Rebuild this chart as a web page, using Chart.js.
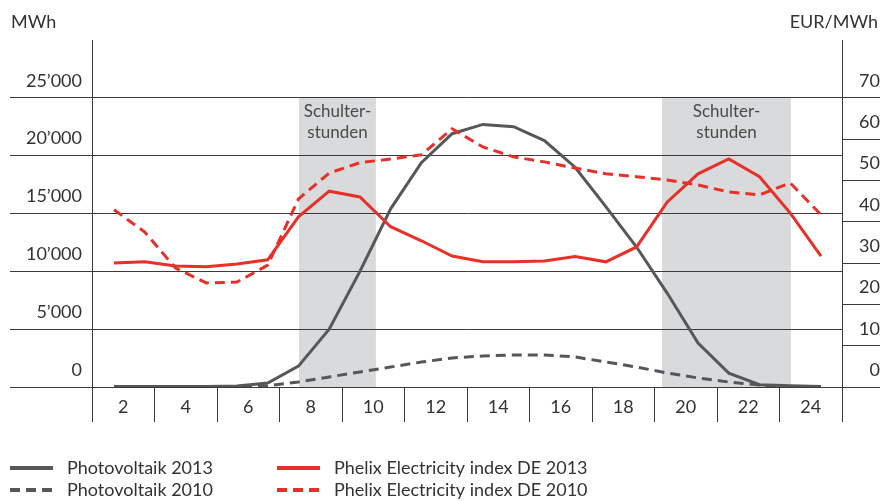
<!DOCTYPE html>
<html>
<head>
<meta charset="utf-8">
<script src="https://cdn.jsdelivr.net/npm/chart.js@4.4.0/dist/chart.umd.min.js"></script>
<style>
  html, body { margin: 0; padding: 0; background: #fff; }
  #wrap { width: 893px; height: 501px; }
</style>
</head>
<body>
<div id="wrap"><canvas id="chart"></canvas></div>
<script>
// hours of the day (one point per hour)
const hours = [1, 2, 3, 4, 5, 6, 7, 8, 9, 10, 11, 12, 13, 14, 15, 16, 17, 18, 19, 20, 21, 22, 23, 24];
const xLabels = ['2', '4', '6', '8', '10', '12', '14', '16', '18', '20', '22', '24'];

// MWh (left axis)
const pv2013 = [50, 50, 50, 50, 80, 350, 1800, 5000, 10000, 15400, 19400, 21900, 22700, 22500, 21300, 19000, 15600, 12100, 8100, 3800, 1200, 200, 100, 50];
const pv2010 = [0, 0, 0, 0, 0, 100, 430, 870, 1300, 1730, 2160, 2510, 2680, 2770, 2770, 2600, 2160, 1730, 1210, 780, 430, 170, 0, 0];

// EUR/MWh (right axis)
const phelix2013 = [30.0, 30.3, 29.3, 29.1, 29.8, 30.8, 41.2, 47.4, 46.0, 38.8, 35.4, 31.7, 30.3, 30.3, 30.5, 31.6, 30.3, 33.9, 44.8, 51.6, 55.2, 50.9, 42.1, 31.7];
const phelix2010 = [42.9, 37.5, 28.8, 25.2, 25.4, 29.5, 45.5, 51.8, 54.3, 55.2, 56.2, 62.5, 58.1, 55.7, 54.5, 53.0, 51.6, 50.9, 50.1, 48.9, 47.2, 46.5, 49.4, 41.7];

// Schulterstunden bands (in hour units)
const shoulderBands = [[7.02, 9.52], [18.83, 23.02]];
const shoulderText = ['Schulter-', 'stunden'];

const GREY = '#555759';
const RED = '#e8302a';
const LINE = '#3a3a3a';
const TEXT = '#333333';
const FONT = 'Lato';

const fmt = v => String(v).replace(/\B(?=(\d{3})+(?!\d))/g, '\u2019');
const pts = arr => hours.map((h, i) => ({ x: h, y: arr[i] }));

const shoulderPlugin = {
  id: 'shoulder',
  beforeDraw(chart) {
    const { ctx, scales: { x, y } } = chart;
    const top = y.getPixelForValue(25000);
    const bottom = y.getPixelForValue(0);
    ctx.save();
    shoulderBands.forEach(([a, b]) => {
      const l = x.getPixelForValue(a);
      const r = x.getPixelForValue(b);
      ctx.fillStyle = '#d9dadc';
      ctx.fillRect(l, top, r - l, bottom - top);
      ctx.fillStyle = '#4a4a4a';
      ctx.font = '17px ' + FONT;
      ctx.textAlign = 'center';
      ctx.textBaseline = 'middle';
      ctx.fillText(shoulderText[0], (l + r) / 2, top + 14);
      ctx.fillText(shoulderText[1], (l + r) / 2, top + 35);
    });
    ctx.restore();
  }
};

const extrasPlugin = {
  id: 'extras',
  afterDraw(chart) {
    const { ctx } = chart;
    ctx.save();
    ctx.font = '18px ' + FONT;
    ctx.fillStyle = TEXT;
    ctx.textBaseline = 'middle';
    ctx.textAlign = 'left';
    ctx.fillText('MWh', 11, 22);
    ctx.textAlign = 'right';
    ctx.fillText('EUR/MWh', 878, 22);

    // legend, two columns
    const cols = [10, 277];
    const rows = [468, 490];
    const order = [2, 3, 0, 1];
    order.forEach((di, k) => {
      const ds = chart.data.datasets[di];
      const x = cols[Math.floor(k / 2)];
      const y = rows[k % 2];
      ctx.strokeStyle = ds.borderColor;
      ctx.lineWidth = 4;
      ctx.setLineDash(ds.borderDash || []);
      ctx.beginPath();
      ctx.moveTo(x, y);
      ctx.lineTo(x + 43, y);
      ctx.stroke();
      ctx.setLineDash([]);
      ctx.textAlign = 'left';
      ctx.fillStyle = TEXT;
      ctx.fillText(ds.label, x + 57, y);
    });
    ctx.restore();
  }
};

new Chart(document.getElementById('chart'), {
  type: 'line',
  data: {
    datasets: [
      { label: 'Phelix Electricity index DE 2013', data: pts(phelix2013), yAxisID: 'y1', borderColor: RED, borderWidth: 3 },
      { label: 'Phelix Electricity index DE 2010', data: pts(phelix2010), yAxisID: 'y1', borderColor: RED, borderWidth: 3, borderDash: [10, 6] },
      { label: 'Photovoltaik 2013', data: pts(pv2013), yAxisID: 'y', borderColor: GREY, borderWidth: 3 },
      { label: 'Photovoltaik 2010', data: pts(pv2010), yAxisID: 'y', borderColor: GREY, borderWidth: 3, borderDash: [10, 6] }
    ]
  },
  options: {
    responsive: true,
    maintainAspectRatio: false,
    animation: false,
    layout: { padding: { top: 40, left: 10, right: 13, bottom: 79 } },
    elements: { point: { radius: 0 }, line: { tension: 0 } },
    plugins: { legend: { display: false }, tooltip: { enabled: false } },
    scales: {
      x: {
        type: 'linear',
        display: false,
        min: 0.2843,
        max: 24.683
      },
      xc: {
        type: 'category',
        labels: xLabels,
        position: 'bottom',
        offset: true,
        grid: { offset: true, drawOnChartArea: false, tickLength: 35, color: LINE },
        border: { display: false },
        ticks: { padding: -26, color: TEXT, font: { family: FONT, size: 18 }, maxRotation: 0 },
        afterFit: s => { s.height = 35; }
      },
      y: {
        position: 'left',
        min: 0,
        max: 30000,
        afterBuildTicks: s => { s.ticks = s.ticks.filter(t => t.value <= 25000); },
        grid: { color: LINE, tickLength: 82 },
        border: { display: true, color: LINE },
        ticks: {
          stepSize: 5000,
          padding: -72,
          labelOffset: -17,
          color: TEXT,
          font: { family: FONT, size: 18 },
          callback: v => fmt(v)
        },
        afterFit: s => { s.width = 82; }
      },
      y1: {
        position: 'right',
        min: 0,
        max: 84,
        afterBuildTicks: s => { s.ticks = s.ticks.filter(t => t.value <= 70); },
        grid: { drawOnChartArea: false, color: LINE, tickLength: 38 },
        border: { display: true, color: LINE },
        ticks: {
          stepSize: 10,
          padding: 0,
          crossAlign: 'far',
          labelOffset: -17,
          color: TEXT,
          font: { family: FONT, size: 18 }
        },
        afterFit: s => { s.width = 38; }
      }
    }
  },
  plugins: [shoulderPlugin, extrasPlugin]
});
</script>
</body>
</html>
